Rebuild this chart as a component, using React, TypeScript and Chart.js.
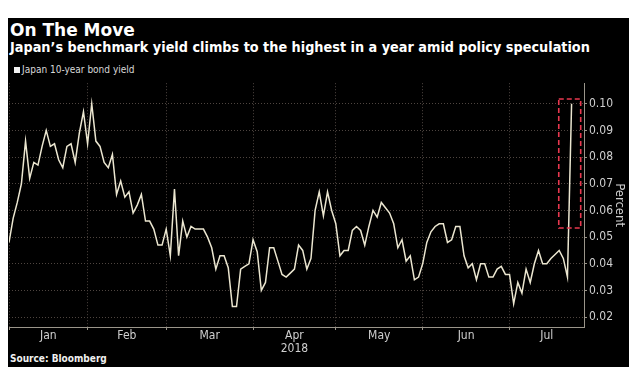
import React, { useEffect, useRef } from 'react';
import { Chart, registerables } from 'chart.js';

Chart.register(...registerables);

const titleText = 'On The Move';
const subtitleText = 'Japan’s benchmark yield climbs to the highest in a year amid policy speculation';
const seriesName = 'Japan 10-year bond yield';
const sourceText = 'Source: Bloomberg';
const axisTitle = 'Percent';

const monthLabels = ['Jan', 'Feb', 'Mar', 'Apr', 'May', 'Jun', 'Jul'];
const monthStartIdx = [0, 19, 38, 59, 79, 100, 121];
const axisEndIdx = 139;
const yearLabel = '2018';
const yearUnderMonth = 'Apr';

const yTicks = [0.02, 0.03, 0.04, 0.05, 0.06, 0.07, 0.08, 0.09, 0.1];
const yMin = 0.0163;
const yMax = 0.1077;

const yields = [
  0.048, 0.057, 0.063, 0.07, 0.086, 0.072, 0.078, 0.077, 0.084, 0.09,
  0.084, 0.085, 0.079, 0.076, 0.084, 0.085, 0.078, 0.089, 0.097, 0.085,
  0.1, 0.086, 0.084, 0.078, 0.076, 0.081, 0.066, 0.071, 0.065, 0.067,
  0.059, 0.062, 0.066, 0.056, 0.056, 0.053, 0.047, 0.047, 0.053, 0.043,
  0.068, 0.043, 0.056, 0.05, 0.054, 0.053, 0.053, 0.053, 0.05, 0.046,
  0.038, 0.043, 0.043, 0.0385, 0.024, 0.024, 0.038, 0.039, 0.04, 0.049,
  0.0445, 0.03, 0.033, 0.046, 0.046, 0.041, 0.036, 0.035, 0.0365, 0.038,
  0.047, 0.045, 0.038, 0.042, 0.06, 0.067, 0.058, 0.067, 0.06, 0.055,
  0.043, 0.045, 0.045, 0.0525, 0.054, 0.0525, 0.047, 0.054, 0.06, 0.0575,
  0.063, 0.061, 0.059, 0.055, 0.046, 0.049, 0.041, 0.043, 0.034, 0.035,
  0.04, 0.048, 0.052, 0.054, 0.055, 0.055, 0.048, 0.049, 0.054, 0.054,
  0.043, 0.0385, 0.04, 0.034, 0.04, 0.04, 0.035, 0.035, 0.038, 0.039,
  0.036, 0.036, 0.025, 0.033, 0.029, 0.038, 0.033, 0.04, 0.045, 0.04,
  0.04, 0.042, 0.0435, 0.045, 0.042, 0.035, 0.1,
];

const highlightBox = { xMin: 132.9, xMax: 138.2, yMin: 0.0534, yMax: 0.1018 };

const COND = '"DejaVu Sans Condensed", "DejaVu Sans", sans-serif';
const WIDE = '"DejaVu Sans", sans-serif';
const GRID = '#4e4540';
const AXIS = '#9a958a';
const TICKTXT = '#cfcfcf';
const LINE = '#ebe6d0';
const RED = '#e8384f';

const monthMids = monthStartIdx.map((s, i) => (s + (i + 1 < monthStartIdx.length ? monthStartIdx[i + 1] : axisEndIdx)) / 2);

const highlightPlugin = {
  id: 'highlightBox',
  afterDatasetsDraw(chart: any) {
    const x = chart.scales.x;
    const y = chart.scales.y;
    const ctx = chart.ctx;
    const x0 = x.getPixelForValue(highlightBox.xMin);
    const x1 = x.getPixelForValue(highlightBox.xMax);
    const y0 = y.getPixelForValue(highlightBox.yMax);
    const y1 = y.getPixelForValue(highlightBox.yMin);
    ctx.save();
    ctx.strokeStyle = RED;
    ctx.lineWidth = 1.6;
    ctx.setLineDash([5, 3]);
    ctx.strokeRect(x0, y0, x1 - x0, y1 - y0);
    ctx.restore();
  },
};

export default function App() {
  const ref = useRef<HTMLCanvasElement | null>(null);

  useEffect(() => {
    if (!ref.current) return;
    const isStart = (v: number) => monthStartIdx.includes(v);
    const chart = new Chart(ref.current, {
      type: 'line',
      data: {
        datasets: [
          {
            label: seriesName,
            data: yields.map((v, i) => ({ x: i, y: v })),
            borderColor: LINE,
            borderWidth: 1.5,
            pointRadius: 0,
            tension: 0,
            fill: false,
          },
        ],
      },
      plugins: [highlightPlugin],
      options: {
        animation: false,
        responsive: true,
        maintainAspectRatio: false,
        layout: { padding: { top: 4, left: 1, right: 0, bottom: 0 } },
        plugins: {
          legend: { display: false },
          tooltip: { enabled: false },
        },
        scales: {
          x: {
            type: 'linear',
            min: 0,
            max: axisEndIdx,
            afterBuildTicks: (scale: any) => {
              const vals = [...monthStartIdx, ...monthMids].sort((a, b) => a - b);
              scale.ticks = vals.map((v) => ({ value: v }));
            },
            afterFit: (scale: any) => {
              scale.height = 25;
            },
            ticks: {
              autoSkip: false,
              maxRotation: 0,
              minRotation: 0,
              padding: -1,
              color: TICKTXT,
              font: { family: COND, size: 12, lineHeight: 1.1 },
              callback: (value: any) => {
                const k = monthMids.indexOf(Number(value));
                if (k < 0) return '';
                const m = monthLabels[k];
                return m === yearUnderMonth ? [m, yearLabel] : m;
              },
            },
            grid: {
              color: (c: any) => (c.tick && isStart(c.tick.value) ? GRID : 'rgba(0,0,0,0)'),
              tickColor: (c: any) => (c.tick && isStart(c.tick.value) ? AXIS : 'rgba(0,0,0,0)'),
              lineWidth: 1,
              tickLength: 3,
              drawTicks: true,
            },
            border: { display: true, color: AXIS, width: 1, dash: [1, 2] },
          },
          y: {
            type: 'linear',
            position: 'right',
            min: yMin,
            max: yMax,
            afterBuildTicks: (scale: any) => {
              scale.ticks = yTicks.map((v) => ({ value: v }));
            },
            afterFit: (scale: any) => {
              scale.width = 45;
            },
            ticks: {
              padding: 2,
              color: TICKTXT,
              font: { family: COND, size: 12 },
              callback: (value: any) => Number(value).toFixed(2),
            },
            grid: {
              color: GRID,
              tickColor: AXIS,
              lineWidth: 1,
              tickLength: 3,
            },
            border: { display: true, color: AXIS, width: 1, dash: [1, 2] },
            title: {
              display: true,
              text: axisTitle,
              color: TICKTXT,
              font: { family: COND, size: 13 },
              padding: { top: 2, bottom: 0 },
            },
          },
        },
      },
    } as any);
    return () => chart.destroy();
  }, []);

  return (
    <div
      style={{
        position: 'relative',
        marginTop: 10,
        height: 349,
        background: '#000',
        overflow: 'hidden',
        fontFamily: COND,
      }}
    >
      <div
        style={{
          position: 'absolute',
          left: 2,
          top: 4,
          fontFamily: WIDE,
          fontSize: 17,
          lineHeight: '17px',
          fontWeight: 'bold',
          color: '#ffffff',
          whiteSpace: 'nowrap',
        }}
      >
        {titleText}
      </div>
      <div
        style={{
          position: 'absolute',
          left: 2,
          top: 22,
          fontSize: 14.3,
          lineHeight: '15px',
          fontWeight: 'bold',
          color: '#ffffff',
          whiteSpace: 'nowrap',
        }}
      >
        {subtitleText}
      </div>
      <div
        style={{
          position: 'absolute',
          left: 6,
          top: 47,
          fontSize: 10,
          lineHeight: '10px',
          color: '#d8d8d8',
          whiteSpace: 'nowrap',
          display: 'flex',
          alignItems: 'center',
        }}
      >
        <span
          style={{ display: 'inline-block', width: 6, height: 6, background: '#f2f2f2', marginRight: 2 }}
        />
        <span>{seriesName}</span>
      </div>
      <div style={{ position: 'absolute', left: 0, top: 56, width: 621, height: 278 }}>
        <canvas ref={ref} />
      </div>
      <div
        style={{
          position: 'absolute',
          left: 2,
          top: 336,
          fontSize: 10,
          lineHeight: '10px',
          fontWeight: 'bold',
          color: '#f0f0f0',
          whiteSpace: 'nowrap',
        }}
      >
        {sourceText}
      </div>
    </div>
  );
}
